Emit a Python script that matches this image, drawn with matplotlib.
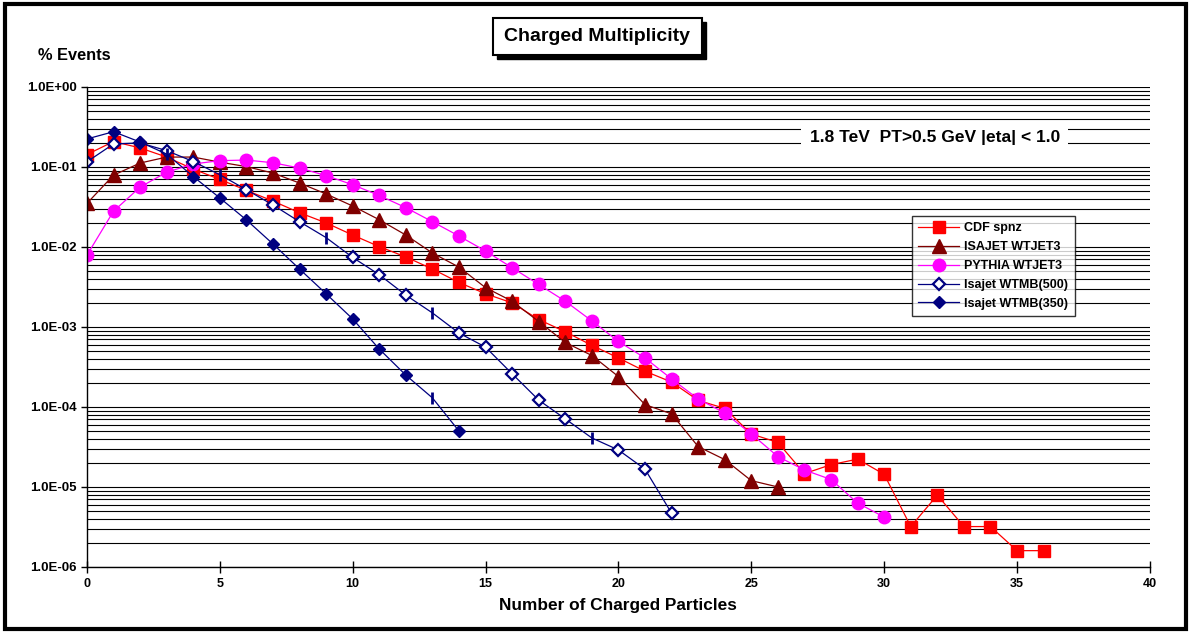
import matplotlib.pyplot as plt
from matplotlib.patches import Rectangle

plt.rcParams['font.family'] = ['Liberation Sans', 'DejaVu Sans']
plt.rcParams['font.weight'] = 'bold'

# charged multiplicity distributions (fraction of events)
cdf_n = list(range(0, 37))
cdf_spnz = [0.143, 0.208, 0.173, 0.133, 0.094, 0.070, 0.051, 0.0375, 0.0268, 0.020,
            0.0141, 0.0101, 0.0075, 0.0053, 0.0036, 0.0026, 0.0020, 0.00124, 0.00087,
            0.00059, 0.00041, 0.00028, 0.000205, 0.000121, 0.000096, 0.000046, 0.000036,
            0.0000147, 0.000019, 0.0000223, 0.0000144, 0.0000032, 0.0000079, 0.0000032,
            0.0000032, 0.0000016, 0.0000016]

isajet_n = list(range(0, 27))
isajet_wtjet3 = [0.035, 0.079, 0.112, 0.133, 0.133, 0.115, 0.101, 0.084, 0.063, 0.046,
                 0.0325, 0.0219, 0.0141, 0.0084, 0.0056, 0.0031, 0.0021, 0.00117, 0.00064,
                 0.00044, 0.00024, 0.000107, 0.000082, 0.000032, 0.000022, 0.000012, 0.000010]

pythia_n = list(range(0, 31))
pythia_wtjet3 = [0.0079, 0.028, 0.056, 0.086, 0.109, 0.120, 0.122, 0.113, 0.097, 0.078,
                 0.060, 0.044, 0.031, 0.0207, 0.0137, 0.0089, 0.0055, 0.0034, 0.0021,
                 0.00119, 0.00066, 0.00041, 0.000224, 0.000126, 0.000084, 0.000046,
                 0.000024, 0.0000163, 0.0000124, 0.0000063, 0.0000042]

wtmb500_n = list(range(0, 23))
wtmb500 = [0.116, 0.194, 0.200, 0.160, 0.117, 0.080, 0.052, 0.0335, 0.0207, 0.0131,
           0.0074, 0.0045, 0.0025, 0.0015, 0.00084, 0.00056, 0.00026, 0.000122, 0.000071,
           0.000041, 0.000029, 0.0000167, 0.0000047]
wtmb500_bar = [5, 9, 13, 19]

wtmb350_n = list(range(0, 15))
wtmb350 = [0.224, 0.276, 0.205, 0.145, 0.076, 0.041, 0.0218, 0.0109, 0.0053, 0.0026,
           0.00126, 0.00053, 0.00025, 0.00013, 0.000050]
wtmb350_bar = [3, 13]

y_ticks = [1e0, 1e-1, 1e-2, 1e-3, 1e-4, 1e-5, 1e-6]
y_labels = ['1.0E+00', '1.0E-01', '1.0E-02', '1.0E-03', '1.0E-04', '1.0E-05', '1.0E-06']

fig = plt.figure(figsize=(11.91, 6.33), dpi=100)
ax = fig.add_axes([0.0730, 0.1043, 0.8925, 0.7583])

ax.plot(cdf_n, cdf_spnz, color='#FF0000', lw=0.9, marker='s', ms=9,
        mec='#FF0000', label='CDF spnz')
ax.plot(isajet_n, isajet_wtjet3, color='#800000', lw=0.9, marker='^', ms=10,
        mec='#800000', label='ISAJET WTJET3')
ax.plot(pythia_n, pythia_wtjet3, color='#FF00FF', lw=0.9, marker='o', ms=9,
        mec='#FF00FF', label='PYTHIA WTJET3')

def split_marks(n, bars):
    keep = [i for i in range(len(n)) if n[i] not in bars]
    return keep, [n.index(b) for b in bars]

keep, bars = split_marks(wtmb500_n, wtmb500_bar)
ax.plot(wtmb500_n, wtmb500, color='#000080', lw=0.9, marker='D', ms=6.5,
        mfc='white', mec='#000080', mew=1.6, markevery=keep, label='Isajet WTMB(500)')
ax.plot([wtmb500_n[i] for i in bars], [wtmb500[i] for i in bars], ls='none',
        marker='|', ms=9, mew=2, color='#000080')

keep, bars = split_marks(wtmb350_n, wtmb350_bar)
ax.plot(wtmb350_n, wtmb350, color='#000080', lw=0.9, marker='D', ms=6.5,
        mfc='#000080', mec='#000080', markevery=keep, label='Isajet WTMB(350)')
ax.plot([wtmb350_n[i] for i in bars], [wtmb350[i] for i in bars], ls='none',
        marker='|', ms=9, mew=2, color='#000080')

ax.set_yscale('log')
ax.set_ylim(1e-6, 1e0)
ax.set_xlim(0, 40)
ax.set_yticks(y_ticks)
ax.set_yticklabels(y_labels)
ax.yaxis.set_minor_formatter(plt.NullFormatter())
ax.tick_params(axis='y', which='minor', length=0)
ax.tick_params(axis='y', which='major', direction='out', length=4, width=1, labelsize=9.5)
ax.set_xticks(range(0, 41, 5))
ax.tick_params(axis='x', direction='inout', length=8, width=1, labelsize=9, pad=4)
ax.grid(True, axis='y', which='both', color='black', lw=0.8)
ax.set_axisbelow(True)
for s in ['top', 'right']:
    ax.spines[s].set_visible(False)
for s in ['left', 'bottom']:
    ax.spines[s].set_linewidth(1)

ax.set_xlabel('Number of Charged Particles', fontsize=12.4, fontweight='bold', labelpad=6)
fig.text(0.032, 0.912, '% Events', fontsize=11.8, fontweight='bold', ha='left', va='center')

leg = ax.legend(loc='upper left', bbox_to_anchor=(0.776, 0.731), borderaxespad=0,
                frameon=True, fancybox=False, fontsize=9, handlelength=3.3,
                handletextpad=0.4, labelspacing=0.55, borderpad=0.5)
leg.get_frame().set_edgecolor('black')
leg.get_frame().set_linewidth(1)
for t in leg.get_texts():
    t.set_fontweight('bold')

ax.text(0.680, 0.895, '1.8 TeV  PT>0.5 GeV |eta| < 1.0', transform=ax.transAxes,
        fontsize=12.5, fontweight='bold', ha='left', va='center',
        bbox=dict(facecolor='white', edgecolor='none', pad=6))

# title box with a drop shadow
fig.patches.append(Rectangle((0.4172, 0.9068), 0.1755, 0.0585, transform=fig.transFigure,
                             facecolor='black', edgecolor='black', lw=1))
fig.patches.append(Rectangle((0.4139, 0.9131), 0.1755, 0.0585, transform=fig.transFigure,
                             facecolor='white', edgecolor='black', lw=1.5))
fig.text(0.5016, 0.9424, 'Charged Multiplicity', fontsize=14, fontweight='bold',
         ha='center', va='center')

fig.patches.append(Rectangle((0.004, 0.006), 0.992, 0.988, transform=fig.transFigure,
                             fill=False, edgecolor='black', lw=3))

fig.savefig('out.png', dpi=100)
